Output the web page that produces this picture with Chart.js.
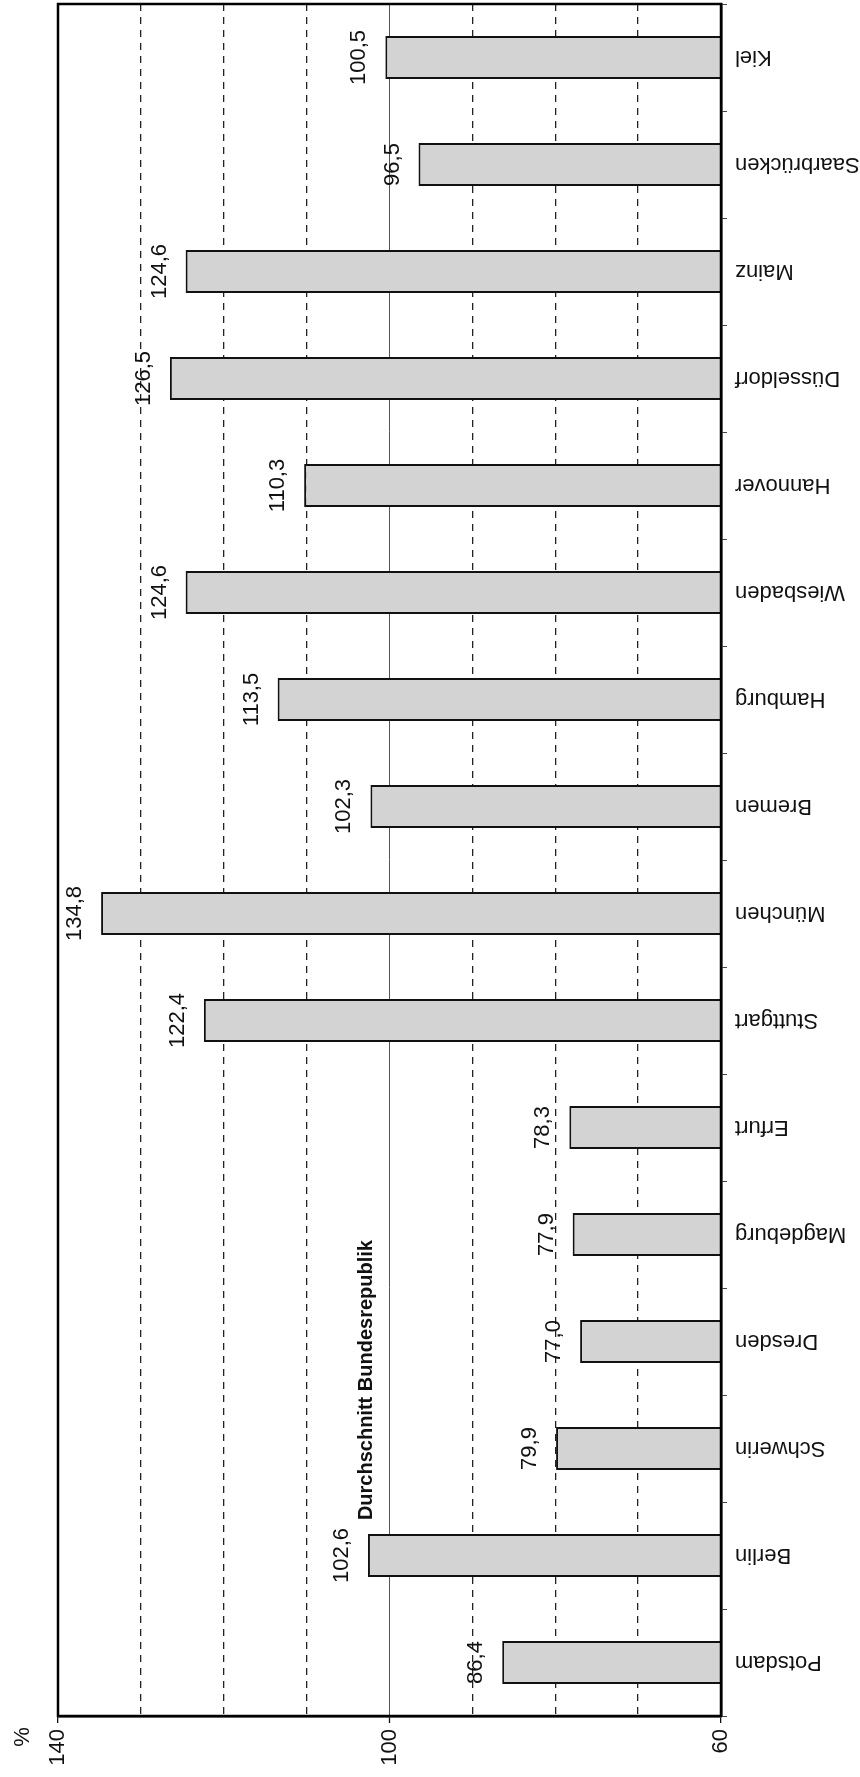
<!DOCTYPE html>
<html lang="de">
<head>
<meta charset="utf-8">
<title>Durchschnitt Bundesrepublik</title>
<script src="https://cdn.jsdelivr.net/npm/chart.js@4.4.1/dist/chart.umd.min.js"></script>
<style>
    html, body { margin: 0; padding: 0; background: #fff; }
    #wrap { width: 860px; height: 1777px; position: relative; }
</style>
</head>
<body>
<div id="wrap"><canvas id="cityChart"></canvas></div>
<script>
// Werte in % (Bundesdurchschnitt = 100)
var categories = ['Potsdam', 'Berlin', 'Schwerin', 'Dresden', 'Magdeburg', 'Erfurt', 'Stuttgart', 'München',
    'Bremen', 'Hamburg', 'Wiesbaden', 'Hannover', 'Düsseldorf', 'Mainz', 'Saarbrücken', 'Kiel'];
var values = [86.4, 102.6, 79.9, 77.0, 77.9, 78.3, 122.4, 134.8, 102.3, 113.5, 124.6, 110.3, 126.5, 124.6, 96.5, 100.5];
var tickLabels = [140, 100, 60];
var averageValue = 100;
var averageLabel = 'Durchschnitt Bundesrepublik';
var axisUnit = '%';

var FONT = '"Liberation Sans", Arial, Helvetica, sans-serif';

function formatValue(v) {
    return v.toFixed(1).replace('.', ',');
}

// Rahmen, Beschriftungen der Balken und Städte
var annotations = {
    id: 'annotations',
    afterDatasetsDraw: function (chart) {
        var ctx = chart.ctx;
        var area = chart.chartArea;
        var xScale = chart.scales.x;
        var yScale = chart.scales.y;
        var meta = chart.getDatasetMeta(0);

        ctx.save();
        ctx.strokeStyle = '#000';
        ctx.lineWidth = 2.5;
        ctx.strokeRect(area.left, area.top, area.right - area.left, area.bottom - area.top);

        ctx.fillStyle = '#111';
        ctx.font = '22px ' + FONT;

        // Werte über den Balkenenden
        meta.data.forEach(function (bar, i) {
            ctx.save();
            ctx.translate(bar.x - 20, bar.y);
            ctx.rotate(-Math.PI / 2);
            ctx.textAlign = 'center';
            ctx.textBaseline = 'alphabetic';
            ctx.fillText(formatValue(values[i]), 0, 0);
            ctx.restore();
        });

        // Städtenamen rechts, auf dem Kopf
        categories.forEach(function (name, i) {
            ctx.save();
            ctx.translate(area.right + 14, yScale.getPixelForValue(i));
            ctx.rotate(Math.PI);
            ctx.textAlign = 'right';
            ctx.textBaseline = 'middle';
            ctx.fillText(name, 0, 0);
            ctx.restore();
        });

        // Einheit
        ctx.save();
        ctx.translate(area.left - 29, area.bottom + 21);
        ctx.rotate(-Math.PI / 2);
        ctx.textAlign = 'center';
        ctx.fillText(axisUnit, 0, 0);
        ctx.restore();

        // Durchschnittslinie
        var berlin = meta.data[1];
        ctx.save();
        ctx.translate(xScale.getPixelForValue(averageValue) - 18, berlin.y - berlin.height / 2 - 14);
        ctx.rotate(-Math.PI / 2);
        ctx.font = 'bold 20px ' + FONT;
        ctx.textAlign = 'left';
        ctx.fillText(averageLabel, 0, 0);
        ctx.restore();

        ctx.restore();
    }
};

document.addEventListener('DOMContentLoaded', function () {
    Chart.defaults.font.family = FONT;
    Chart.defaults.font.size = 22;
    Chart.defaults.color = '#111';

    var ctx = document.getElementById('cityChart').getContext('2d');
    new Chart(ctx, {
        type: 'bar',
        data: {
            labels: categories,
            datasets: [{
                data: values,
                backgroundColor: '#d3d3d3',
                borderColor: '#111',
                borderWidth: 2,
                barPercentage: 0.4,
                categoryPercentage: 1
            }]
        },
        options: {
            indexAxis: 'y',
            responsive: true,
            maintainAspectRatio: false,
            animation: false,
            layout: { padding: { top: 4, left: 58, right: 0, bottom: 0 } },
            plugins: {
                legend: { display: false },
                tooltip: { enabled: false }
            },
            scales: {
                x: {
                    type: 'linear',
                    position: 'bottom',
                    min: 60,
                    max: 140,
                    reverse: true,
                    afterFit: function (scale) { scale.height = 61; },
                    ticks: {
                        stepSize: 10,
                        autoSkip: false,
                        minRotation: 90,
                        maxRotation: 90,
                        padding: 6,
                        color: '#111',
                        callback: function (value) {
                            return tickLabels.indexOf(value) >= 0 ? String(value) : '';
                        }
                    },
                    grid: {
                        lineWidth: function (c) { return c.tick && c.tick.value === averageValue ? 1 : 1.3; },
                        color: function (c) {
                            if (!c.tick) return '#222';
                            if (c.tick.value === 60 || c.tick.value === 140) return 'rgba(0,0,0,0)';
                            return c.tick.value === averageValue ? '#555' : '#222';
                        },
                        tickColor: function (c) {
                            return c.tick && tickLabels.indexOf(c.tick.value) >= 0 ? '#111' : 'rgba(0,0,0,0)';
                        },
                        tickLength: 7,
                        tickWidth: 1.3
                    },
                    border: {
                        display: true,
                        color: '#000',
                        width: 2.5,
                        dash: function (c) {
                            return c.tick && c.tick.value === averageValue ? [] : [7, 6];
                        }
                    }
                },
                y: {
                    position: 'right',
                    reverse: true,
                    afterFit: function (scale) { scale.width = 139; },
                    ticks: { display: false },
                    grid: {
                        offset: true,
                        drawOnChartArea: false,
                        tickLength: 6,
                        color: '#444',
                        lineWidth: 1
                    },
                    border: { display: true, color: '#000', width: 2.5 }
                }
            }
        },
        plugins: [annotations]
    });
});
</script>
</body>
</html>
